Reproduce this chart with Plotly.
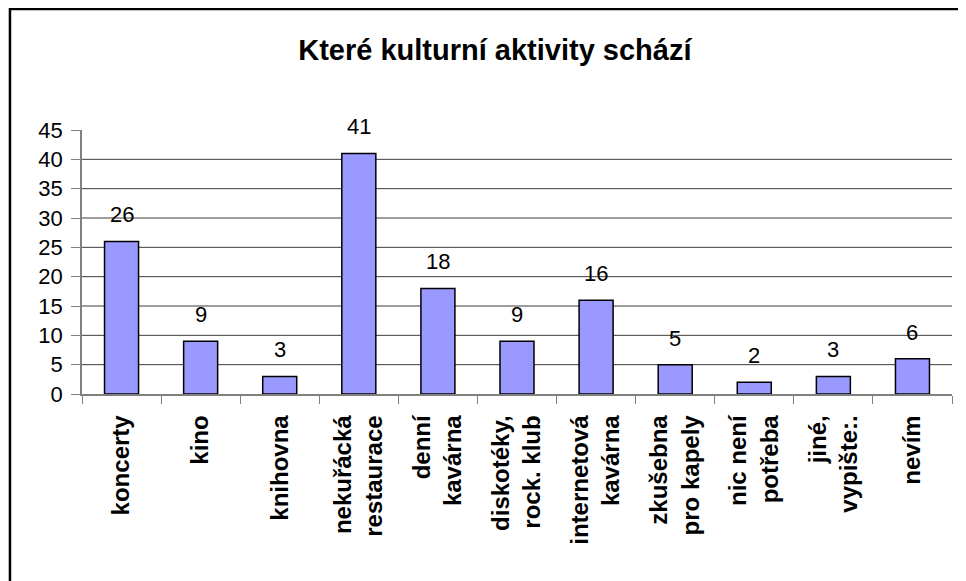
import plotly.graph_objects as go

FONT = 'Liberation Sans, Arial, sans-serif'

categories = [
    'koncerty', 'kino', 'knihovna', 'nekuřácká<br>restaurace', 'denní<br>kavárna',
    'diskotéky,<br>rock. klub', 'internetová<br>kavárna', 'zkušebna<br>pro kapely',
    'nic není<br>potřeba', 'jiné,<br>vypište:.', 'nevím',
]
values = [26, 9, 3, 41, 18, 9, 16, 5, 2, 3, 6]
y_ticks = [0, 5, 10, 15, 20, 25, 30, 35, 40, 45]
grid_values = [5, 10, 15, 20, 25, 30, 35, 40]

fig = go.Figure(
    go.Bar(
        x=categories,
        y=values,
        marker={'color': '#9999FF', 'line': {'color': 'black', 'width': 1.5}},
        hoverinfo='x+y',
    )
)

# value labels above the bars
for cat, val in zip(categories, values):
    fig.add_annotation(
        x=cat, y=val, text=str(val), showarrow=False,
        yanchor='bottom', yshift=12,
        font={'family': FONT, 'size': 22, 'color': 'black'},
    )

# horizontal grid (no line at the top value)
for v in grid_values:
    fig.add_shape(
        type='line', xref='paper', x0=0, x1=1, yref='y', y0=v, y1=v,
        line={'color': '#3c3c3c', 'width': 1}, layer='below',
    )

# chart frame (only left and top edges are visible)
fig.add_shape(
    type='rect', xref='paper', yref='paper',
    x0=-0.0828, x1=1.5, y0=-1.5, y1=1.458,
    line={'color': 'black', 'width': 2.5}, layer='below',
)

fig.update_layout(
    width=966,
    height=581,
    margin={'l': 74, 'r': 22, 't': 122, 'b': 195},
    plot_bgcolor='white',
    paper_bgcolor='white',
    showlegend=False,
    bargap=0.57,
    title={
        'text': '<b>Které kulturní aktivity schází</b>',
        'font': {'family': FONT, 'size': 29, 'color': 'black'},
        'xref': 'container', 'yref': 'container',
        'x': 0.504, 'y': 0.928, 'xanchor': 'center', 'yanchor': 'middle',
    },
    xaxis={
        'type': 'category',
        'tickangle': -90,
        'tickson': 'boundaries',
        'ticks': 'outside',
        'ticklen': 8,
        'tickcolor': '#808080',
        'showline': True,
        'linecolor': '#808080',
        'linewidth': 1.5,
        'showgrid': False,
        'ticklabelstandoff': 10,
        'tickfont': {'family': FONT, 'size': 24, 'color': 'black', 'weight': 'bold'},
    },
    yaxis={
        'range': [0, 45],
        'tickvals': y_ticks,
        'ticks': 'outside',
        'ticklen': 9,
        'tickcolor': '#808080',
        'showline': True,
        'linecolor': '#808080',
        'linewidth': 1.5,
        'showgrid': False,
        'zeroline': False,
        'ticklabelstandoff': 4,
        'tickfont': {'family': FONT, 'size': 22, 'color': 'black'},
    },
)

fig.write_html('out.html')
